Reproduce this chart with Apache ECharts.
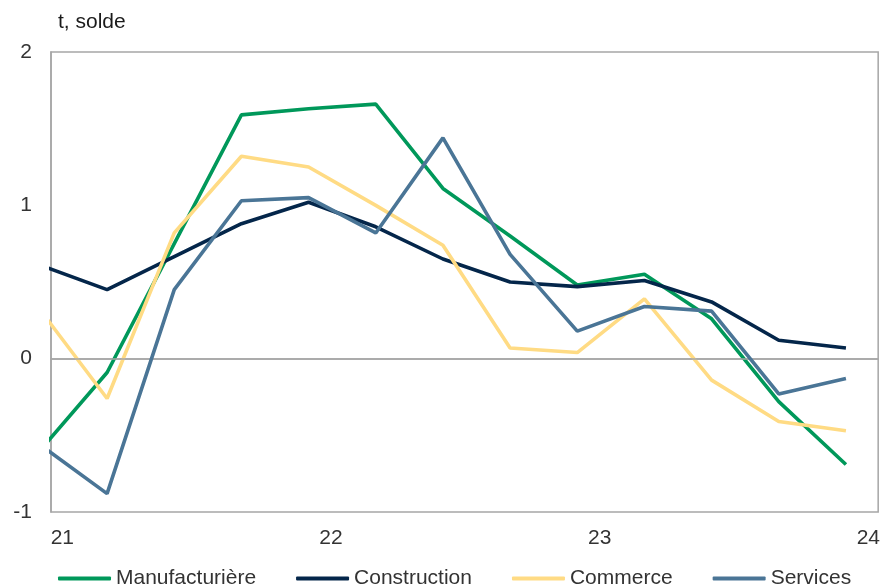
<!DOCTYPE html>
<html>
<head>
<meta charset="utf-8">
<script src="https://cdn.jsdelivr.net/npm/echarts@6/dist/echarts.min.js"></script>
<style>
  html, body { margin: 0; padding: 0; background: #ffffff; }
  #chart { width: 883px; height: 586px; }
</style>
</head>
<body>
<div id="chart"></div>
<script>
// Quarterly balance of opinion by sector (first quarter sits just left of the frame)
const quarters = ['2020T4', '2021T1', '2021T2', '2021T3', '2021T4', '2022T1', '2022T2',
                  '2022T3', '2022T4', '2023T1', '2023T2', '2023T3', '2023T4'];

const manufacturiere = [-0.60, -0.09, 0.75, 1.59, 1.63, 1.66, 1.11, 0.80, 0.48, 0.55, 0.26, -0.28, -0.69];
const construction   = [ 0.61,  0.45, 0.665, 0.88, 1.02, 0.86, 0.65, 0.50, 0.47, 0.51, 0.37, 0.12, 0.07];
const commerce       = [ 0.32, -0.26, 0.82, 1.32, 1.25, 1.00, 0.74, 0.07, 0.04, 0.39, -0.14, -0.41, -0.47];
const services       = [-0.56, -0.88, 0.45, 1.03, 1.05, 0.82, 1.44, 0.68, 0.18, 0.34, 0.31, -0.23, -0.13];

const yearLabels = ['21', '22', '23', '24'];
const yTicks = [-1, 0, 1, 2];

const seriesNames = ['Manufacturière', 'Construction', 'Commerce', 'Services'];
const seriesData = [manufacturiere, construction, commerce, services];
const seriesColors = ['#00985A', '#04264A', '#FFDB84', '#4A7596'];

// Year labels sit one third of a quarter after the last quarter of the previous year
const yearPos = yearLabels.map((_, k) => 4 * k + 1 / 3);

const textColor = '#333333';
const frameColor = '#A6A6A6';
const font = 'Liberation Sans, Arial, sans-serif';

const chart = echarts.init(document.getElementById('chart'));

chart.setOption({
  animation: false,
  backgroundColor: '#ffffff',
  title: {
    text: 't, solde',
    left: 53,
    top: 7,
    textStyle: { fontFamily: font, fontSize: 21, fontWeight: 'normal', color: '#1a1a1a' }
  },
  grid: {
    left: 51, right: 2, top: 52, bottom: 74,
    show: true, borderColor: frameColor, borderWidth: 1.5, backgroundColor: 'transparent'
  },
  legend: {
    data: seriesNames,
    left: 53,
    top: 563,
    itemWidth: 53,
    itemHeight: 4,
    itemGap: 40,
    icon: 'roundRect',
    textStyle: { fontFamily: font, fontSize: 21, color: textColor, padding: [0, 0, 0, 0] }
  },
  xAxis: {
    type: 'value',
    min: 0.165,
    max: 12.48,
    axisLine: { show: true, lineStyle: { color: frameColor, width: 1.5 } },
    axisTick: { show: false },
    splitLine: { show: false },
    axisLabel: {
      customValues: yearPos,
      formatter: (v) => {
        const k = yearPos.findIndex(p => Math.abs(p - v) < 1e-6);
        return k >= 0 ? yearLabels[k] : '';
      },
      margin: 16,
      fontFamily: font, fontSize: 21, color: textColor
    }
  },
  yAxis: {
    type: 'value',
    min: yTicks[0],
    max: yTicks[yTicks.length - 1],
    interval: 1,
    axisLine: { show: true, lineStyle: { color: frameColor, width: 1.5 } },
    axisTick: { show: false },
    splitLine: { show: false },
    axisLabel: { margin: 19, fontFamily: font, fontSize: 21, color: textColor }
  },
  series: seriesNames.map((name, s) => ({
    name: name,
    type: 'line',
    data: seriesData[s].map((v, i) => [i, v]),
    symbol: 'none',
    clip: true,
    lineStyle: { width: 3.6, color: seriesColors[s] },
    itemStyle: { color: seriesColors[s] },
    markLine: s === 0 ? {
      silent: true,
      symbol: 'none',
      label: { show: false },
      lineStyle: { color: frameColor, width: 1.5, type: 'solid' },
      data: [{ yAxis: 0 }]
    } : undefined,
    z: 2 + s
  }))
});
</script>
</body>
</html>
